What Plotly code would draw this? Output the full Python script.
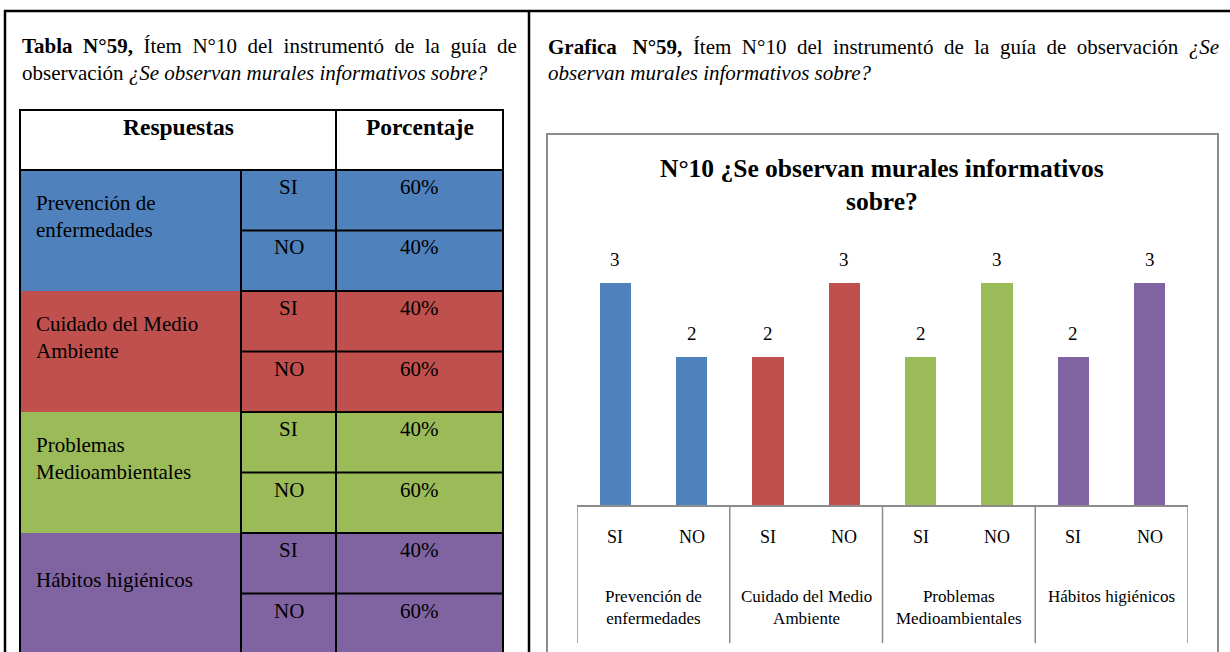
import plotly.graph_objects as go

# ---------------- data ----------------
grupos = ["Prevención de enfermedades", "Cuidado del Medio Ambiente",
          "Problemas Medioambientales", "Hábitos higiénicos"]
grupos_etiqueta = ["Prevención de<br>enfermedades", "Cuidado del Medio<br>Ambiente",
                   "Problemas<br>Medioambientales", "Hábitos higiénicos"]
respuestas = ["SI", "NO"]
frecuencias = [[3, 2], [2, 3], [2, 3], [2, 3]]
porcentajes = ["60%", "40%", "40%", "60%", "40%", "60%", "40%", "60%"]
colores = ["#4F81BD", "#C0504D", "#9BBB59", "#8064A2"]

titulo_grafica = "N°10 ¿Se observan murales informativos<br>sobre?"

# ---------------- page geometry (pixels) ----------------
W, H = 1230, 652
SERIF = "Liberation Serif, Times New Roman, serif"


def px(x):
    return x / W


def py(y):
    return 1 - y / H


shapes = []
annotations = []


def line(x0, y0, x1, y1, color="black", width=2):
    shapes.append(dict(type="line", xref="paper", yref="paper",
                       x0=px(x0), y0=py(y0), x1=px(x1), y1=py(y1),
                       line=dict(color=color, width=width)))


def rect(x0, y0, x1, y1, fill):
    shapes.append(dict(type="rect", xref="paper", yref="paper",
                       x0=px(x0), y0=py(y0), x1=px(x1), y1=py(y1),
                       fillcolor=fill, line=dict(width=0), layer="below"))


def text(x, y, s, size=21, xanchor="left", align="left", yanchor="middle"):
    annotations.append(dict(xref="paper", yref="paper", x=px(x), y=py(y),
                            text=s, showarrow=False, xanchor=xanchor,
                            yanchor=yanchor, align=align,
                            font=dict(family=SERIF, size=size, color="black")))


# page frame lines
line(4, 11, 1230, 11, width=2.5)
line(5, 10, 5, 660, width=2.5)
line(529, 10, 529, 660, width=2.5)

# captions (widened spaces give a justified look)
wide = " \u2005"
text(20, 46, "<b>Tabla" + wide + "N°59,</b>" + wide +
     wide.join("Ítem N°10 del instrumentó de la guía de".split(" ")))
text(20, 73, "observación <i>¿Se observan murales informativos sobre?</i>")
text(546, 47, "<b>Grafica" + wide + " N°59,</b>" + wide +
     wide.join("Ítem N°10 del instrumentó de la guía de observación".split(" ")) +
     wide + "<i>¿Se</i>")
text(546, 73, "<i>observan murales informativos sobre?</i>")

# ---------------- table ----------------
tx0, tx1, tx2, tx3 = 20, 241, 336, 503
top, head_h, sub_h = 110, 60, 60.5
body_top = top + head_h

for g, grupo in enumerate(grupos_etiqueta):
    y0 = body_top + 2 * g * sub_h
    rect(tx0, y0, tx3, y0 + 2 * sub_h, colores[g])
    text(tx0 + 14, y0 + sub_h - 14, grupo, size=21)
    for r, resp in enumerate(respuestas):
        yr = y0 + r * sub_h
        text((tx1 + tx2) / 2, yr + 17, resp, size=21, xanchor="center", align="center")
        text((tx2 + tx3) / 2, yr + 17, porcentajes[2 * g + r], size=21,
             xanchor="center", align="center")
        line(tx1, yr, tx3, yr)

# table grid
line(tx0, top, tx3, top)
line(tx0, body_top, tx3, body_top)
line(tx0, top - 1, tx0, 660)
line(tx3, top - 1, tx3, 660)
line(tx2, top, tx2, 660)
line(tx1, body_top, tx1, 660)

text((tx0 + tx2) / 2, top + 17, "<b>Respuestas</b>", size=23.5, xanchor="center")
text((tx2 + tx3) / 2, top + 17, "<b>Porcentaje</b>", size=23.5, xanchor="center")

# ---------------- bar chart ----------------
# chart frame
shapes.append(dict(type="rect", xref="paper", yref="paper",
                   x0=px(547), y0=py(134), x1=px(1218), y1=py(700),
                   line=dict(color="#8C8C8C", width=2), fillcolor="rgba(0,0,0,0)"))
text(882, 185, "<b>" + titulo_grafica + "</b>", size=25.5, xanchor="center", align="center")

fig = go.Figure()
for g, grupo in enumerate(grupos):
    xs = [2 * g + r for r in range(len(respuestas))]
    fig.add_trace(go.Bar(x=xs, y=frecuencias[g], width=0.41,
                         marker=dict(color=colores[g], line=dict(width=0)),
                         name=grupo, showlegend=False, hoverinfo="skip"))
    for xv, yv in zip(xs, frecuencias[g]):
        annotations.append(dict(xref="x", yref="y", x=xv, y=yv, yshift=24,
                                text=str(yv), showarrow=False, yanchor="middle",
                                font=dict(family=SERIF, size=19, color="black")))
        annotations.append(dict(xref="x", yref="paper", x=xv, y=py(537),
                                text=respuestas[xv % 2], showarrow=False,
                                yanchor="middle",
                                font=dict(family=SERIF, size=18, color="black")))
    annotations.append(dict(xref="x", yref="paper", x=2 * g + 0.5, y=py(585),
                            text=grupos_etiqueta[g], showarrow=False,
                            yanchor="top", align="center",
                            font=dict(family=SERIF, size=17, color="black")))

# category dividers under the axis
n_cat = 2 * len(grupos)
for k in range(0, n_cat + 1, 2):
    shapes.append(dict(type="line", xref="x", yref="paper",
                       x0=k - 0.5, x1=k - 0.5, y0=py(505), y1=py(643),
                       line=dict(color="#8C8C8C", width=1.5)))

fig.update_layout(
    width=W, height=H,
    margin=dict(l=0, r=0, t=0, b=0),
    paper_bgcolor="white", plot_bgcolor="rgba(0,0,0,0)",
    bargap=0,
    xaxis=dict(domain=[px(577), px(1188)], range=[-0.5, n_cat - 0.5],
               showgrid=False, zeroline=False, showticklabels=False, ticks="",
               showline=True, linecolor="#8C8C8C", linewidth=1.5, fixedrange=True),
    yaxis=dict(domain=[py(505), py(246)], range=[0, 3.5],
               showgrid=False, zeroline=False, showticklabels=False, ticks="",
               showline=False, fixedrange=True),
    shapes=shapes,
    annotations=annotations,
)

fig.write_html("out.html")
